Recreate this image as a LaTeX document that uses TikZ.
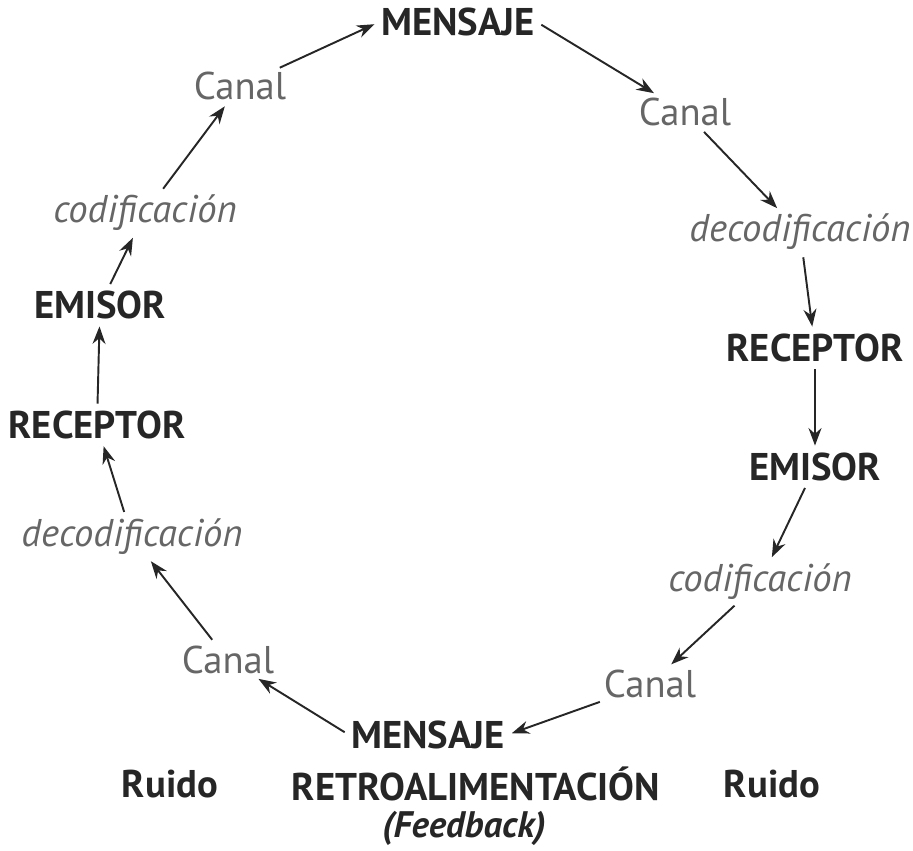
\documentclass[tikz,border=0pt]{standalone}
\usepackage{fontspec}
\setmainfont{PT Sans}
\usepackage{tikz}
\usetikzlibrary{arrows.meta,positioning}

\begin{document}
\begin{tikzpicture}[x=0.02cm, y=-0.02cm,
    every node/.style={font=\fontsize{22}{26}\selectfont, inner sep=1pt},
    big/.style={font=\fontsize{22}{26}\selectfont\bfseries, text=black!85},
    soft/.style={text=black!60},
    slant/.style={soft, font=\fontsize{22}{26}\selectfont\itshape},
    flow/.style={-{Stealth[length=3.5mm,width=2.6mm]}, line width=1.1pt, black!85, shorten <=3pt, shorten >=3pt}]
      \useasboundingbox (0,0) rectangle (913,850);
      \node[big] (msgtop) at (458,22) {MENSAJE};
      \node[soft] (canaltl) at (240,86) {Canal};
      \node[soft] (canaltr) at (685,112) {Canal};
      \node[slant] (codl) at (145,213) {codificación};
      \node[slant] (decodr) at (800,232) {decodificación};
      \node[big] (emil) at (100,305) {EMISOR};
      \node[big] (recr) at (815,348) {RECEPTOR};
      \node[big] (recl) at (97,425) {RECEPTOR};
      \node[big] (emir) at (815,467) {EMISOR};
      \node[slant] (decodl) at (132,537) {decodificación};
      \node[slant] (codr) at (760,582) {codificación};
      \node[soft] (canalbl) at (228,660) {Canal};
      \node[soft] (canalbr) at (650,684) {Canal};
      \node[big] (msgbot) at (428,735) {MENSAJE};
      \node[big] (ruidol) at (170,784) {Ruido};
      \node[big, inner sep=0pt] (retro) at (476,784) {RETROALIMENTACIÓN};
      \node[big, inner sep=0pt, font=\fontsize{21}{25}\selectfont\bfseries\itshape] (feed) at (464,828) {(Feedback)};
      \node[big] (ruidor) at (772,784) {Ruido};
      % sentido del mensaje
      \draw[flow] (canaltl) -- (msgtop.west);
      \draw[flow] (msgtop.east) -- (canaltr);
      \draw[flow] (canaltr) -- (decodr);
      \draw[flow] (decodr) -- (recr);
      \draw[flow] (recr) -- (emir);
      \draw[flow] (emir) -- (codr);
      \draw[flow] (codr) -- (canalbr);
      \draw[flow] (canalbr) -- (msgbot.east);
      % retorno
      \draw[flow] (msgbot.west) -- (canalbl);
      \draw[flow] (canalbl) -- (decodl);
      \draw[flow] (decodl) -- (recl);
      \draw[flow] (recl) -- (emil);
      \draw[flow] (emil) -- (codl);
      \draw[flow] (codl) -- (canaltl);
    \end{tikzpicture}
\end{document}
